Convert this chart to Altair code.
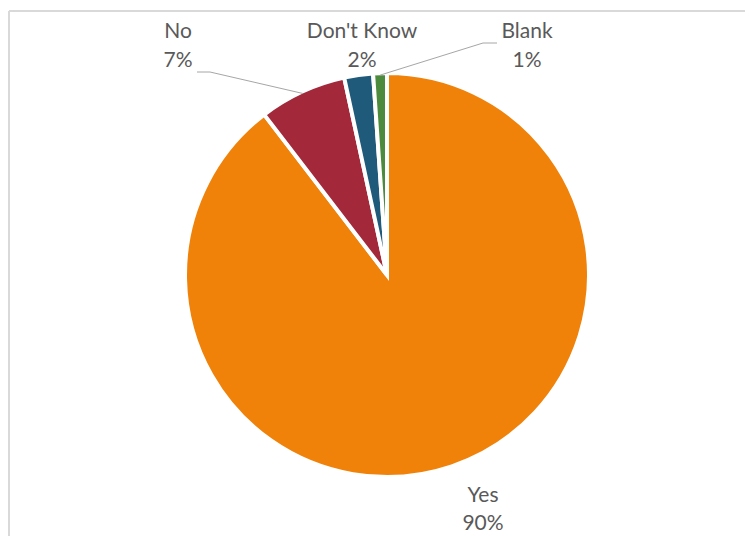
import altair as alt
import pandas as pd
import math

# ---- data ----
categories = ["Yes", "No", "Don't Know", "Blank"]
values = [89.6, 7.0, 2.3, 1.1]
colors = ["#F0820A", "#A2283A", "#1F5A7B", "#4C8B3E"]

# ---- layout (chart pixel coordinates) ----
W, H = 737, 528
CX, CY, R = 379, 267, 200
label_x = [475, 170, 354, 519]
label_y = [494, 30, 30, 30]
line_h = [28, 29, 29, 29]
# leader-line label-side points (only for labels that have a leader)
leader_pts = {"No": [(189, 64), (202, 64)], "Blank": [(489, 35), (475, 35)]}

total = sum(values)
df = pd.DataFrame({
    "cat": categories,
    "value": values,
    "idx": list(range(len(categories))),
})
df["l1"] = categories
df["l2"] = [f"{round(v / total * 100):.0f}%" for v in values]
df["lx"] = label_x
df["ly"] = label_y
df["ly2"] = [y + h for y, h in zip(label_y, line_h)]

# leader lines: from label side to the middle of the slice's outer arc
rows = []
cum = 0.0
for c, v in zip(categories, values):
    mid = (cum + v / 2) / total * 2 * math.pi
    cum += v
    if c in leader_pts:
        pts = leader_pts[c] + [(CX + R * math.sin(mid), CY - R * math.cos(mid))]
        for i, (px, py) in enumerate(pts):
            rows.append({"cat": c, "k": i, "px": px, "py": py})
lead = pd.DataFrame(rows)

color_scale = alt.Scale(domain=categories, range=colors)

pie = alt.Chart(df).mark_arc(outerRadius=R + 2, stroke="white", strokeWidth=4).encode(
    theta=alt.Theta("value:Q", stack=True),
    order=alt.Order("idx:Q"),
    color=alt.Color("cat:N", scale=color_scale, legend=None),
    x=alt.value(CX),
    y=alt.value(CY),
)

text_style = dict(font="Lato", fontSize=21, color="#595959", align="center",
                  baseline="alphabetic")
labels1 = alt.Chart(df).mark_text(**text_style).encode(
    x=alt.X("lx:Q", scale=None),
    y=alt.Y("ly:Q", scale=None),
    text="l1:N",
)
labels2 = alt.Chart(df).mark_text(**text_style).encode(
    x=alt.X("lx:Q", scale=None),
    y=alt.Y("ly2:Q", scale=None),
    text="l2:N",
)

leaders = alt.Chart(lead).mark_line(color="#A6A6A6", strokeWidth=1).encode(
    x=alt.X("px:Q", scale=None),
    y=alt.Y("py:Q", scale=None),
    detail="cat:N",
    order="k:Q",
)

one = pd.DataFrame({"a": [0]})
border_top = alt.Chart(one).mark_rule(color="#D9D9D9", strokeWidth=2).encode(
    x=alt.value(1), x2=alt.value(W), y=alt.value(3)
)
border_left = alt.Chart(one).mark_rule(color="#D9D9D9", strokeWidth=2).encode(
    x=alt.value(1), y=alt.value(3), y2=alt.value(H)
)

chart = alt.layer(border_top, border_left, pie, leaders, labels1, labels2).properties(
    width=W, height=H, padding=0, autosize=alt.AutoSizeParams(type="none"),
    background="white",
).configure_view(stroke=None)

chart.save("out.html", embed_options={"renderer": "svg", "actions": False})
